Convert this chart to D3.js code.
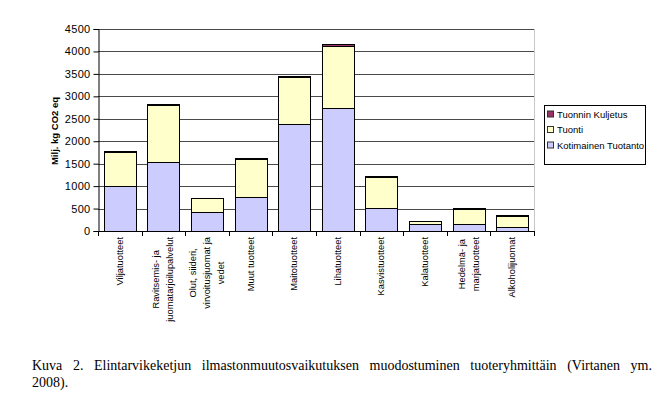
<!DOCTYPE html>
<html>
<head>
<meta charset="utf-8">
<script src="https://cdn.jsdelivr.net/npm/d3@7"></script>
<style>
  html, body { margin: 0; padding: 0; background: #fff; }
  svg { display: block; }
</style>
</head>
<body>
<svg id="chart" width="660" height="405"></svg>
<script>
const categories = ["Viljatuotteet", "Ravitsemis- ja juomatarjoilupalvelut", "Olut, siideri, virvoitusjuomat ja vedet", "Muut tuotteet", "Maitotuotteet", "Lihatuotteet", "Kasvistuotteet", "Kalatuotteet", "Hedelmä- ja marjatuotteet", "Alkoholijuomat"];
const labelLines = [["Viljatuotteet"], ["Ravitsemis- ja", "juomatarjoilupalvelut"], ["Olut, siideri,", "virvoitusjuomat ja", "vedet"], ["Muut tuotteet"], ["Maitotuotteet"], ["Lihatuotteet"], ["Kasvistuotteet"], ["Kalatuotteet"], ["Hedelmä- ja", "marjatuotteet"], ["Alkoholijuomat"]];
const kotimainen = [1000, 1530, 430, 760, 2390, 2740, 505, 150, 150, 80];
const tuonti = [760, 1270, 300, 840, 1050, 1390, 700, 70, 340, 265];
const kuljetus = [30, 20, 10, 30, 20, 30, 30, 10, 30, 10];
const seriesNames = ["Kotimainen Tuotanto", "Tuonti", "Tuonnin Kuljetus"];
const seriesColors = ["#ccccff", "#ffffcc", "#993366"];
const yTicks = [0, 500, 1000, 1500, 2000, 2500, 3000, 3500, 4000, 4500];
const yTitle = "Milj. kg CO2 eq";
const caption1 = "Kuva 2. Elintarvikeketjun ilmastonmuutosvaikutuksen muodostuminen tuoteryhmittäin (Virtanen ym.";
const caption2 = "2008).";

const SANS = "'Liberation Sans', Arial, sans-serif";
const SERIF = "'Liberation Serif', 'Times New Roman', serif";

const svg = d3.select("#chart");
const L = 98, R = 534, T = 29, B = 231;

const x = d3.scaleBand().domain(categories).range([L, R]).paddingInner(0.27).paddingOuter(0.135);
const y = d3.scaleLinear().domain([0, 4500]).range([B, T]);

// gridlines
svg.append("g").selectAll("line").data(yTicks.filter(d => d > 0)).join("line")
  .attr("x1", L).attr("x2", R)
  .attr("y1", d => Math.round(y(d)) + 0.5).attr("y2", d => Math.round(y(d)) + 0.5)
  .attr("stroke", "#4a4a4a").attr("stroke-width", 1);

// right border
svg.append("line").attr("x1", R + 0.5).attr("x2", R + 0.5).attr("y1", T).attr("y2", B)
  .attr("stroke", "#c8c8c8");

// stacked data
const table = categories.map((c, i) => ({ cat: c, k: kotimainen[i], t: tuonti[i], q: kuljetus[i] }));
const stack = d3.stack().keys(["k", "t", "q"])(table);

svg.append("g").selectAll("g").data(stack).join("g")
  .attr("fill", (d, i) => seriesColors[i])
  .selectAll("rect").data(d => d).join("rect")
  .attr("x", d => Math.round(x(d.data.cat)) + 0.5)
  .attr("width", Math.round(x.bandwidth()))
  .attr("y", d => Math.round(y(d[1])) + 0.5)
  .attr("height", d => Math.max(0, Math.round(y(d[0])) - Math.round(y(d[1]))))
  .attr("stroke", "#000").attr("stroke-width", 1);

// Y axis
const yAxis = svg.append("g").attr("transform", `translate(${L + 0.5},0)`)
  .call(d3.axisLeft(y).tickValues(yTicks).tickSize(5).tickPadding(3).tickFormat(d3.format("d")));
yAxis.select(".domain").attr("stroke", "#000");
yAxis.selectAll(".tick line").attr("stroke", "#000");
yAxis.selectAll(".tick text").attr("font-family", SANS)
  .attr("font-size", "11px").attr("fill", "#000").attr("letter-spacing", "0.3px");

// X axis line + ticks at boundaries
svg.append("line").attr("x1", L).attr("x2", R).attr("y1", B + 0.5).attr("y2", B + 0.5).attr("stroke", "#000");
const step = x.step();
const bounds = d3.range(categories.length + 1).map(i => i === 0 ? L : (i === categories.length ? R : x(categories[i]) - step * x.paddingInner() / 2));
svg.append("g").selectAll("line").data(bounds).join("line")
  .attr("x1", d => Math.round(d) + 0.5).attr("x2", d => Math.round(d) + 0.5)
  .attr("y1", B).attr("y2", B + 5).attr("stroke", "#000");

// X labels
const labelTop = 237;
const lineGap = 14;
categories.forEach((c, i) => {
  const lines = labelLines[i];
  const cx = x(c) + x.bandwidth() / 2;
  const g = svg.append("g");
  const texts = lines.map((ln, j) => g.append("text").text(ln)
    .attr("font-family", SANS).attr("font-size", "9.3px").attr("fill", "#000")
    .attr("text-anchor", "middle").attr("dominant-baseline", "central"));
  const maxLen = d3.max(texts, t => t.node().getComputedTextLength());
  const cy = labelTop + maxLen / 2;
  texts.forEach((t, j) => {
    const lx = cx + (j - (lines.length - 1) / 2) * lineGap;
    t.attr("transform", `translate(${lx},${cy}) rotate(-90)`);
  });
});

// Y title
svg.append("text").text(yTitle)
  .attr("transform", "translate(54,131) rotate(-90)")
  .attr("text-anchor", "middle").attr("dominant-baseline", "central")
  .attr("font-family", SANS).attr("font-size", "9.5px")
  .attr("font-weight", "bold").attr("fill", "#000");

// Legend
svg.append("rect").attr("x", 544.5).attr("y", 105.5).attr("width", 101).attr("height", 59)
  .attr("fill", "#fff").attr("stroke", "#000");
const legendOrder = [2, 1, 0];
legendOrder.forEach((si, j) => {
  const ly = 114 + j * 15.5;
  svg.append("rect").attr("x", 547.5).attr("y", ly - 3).attr("width", 6).attr("height", 6)
    .attr("fill", seriesColors[si]).attr("stroke", "#333");
  svg.append("text").text(seriesNames[si]).attr("x", 557).attr("y", ly)
    .attr("dominant-baseline", "central")
    .attr("font-family", SANS).attr("font-size", "9.5px").attr("fill", "#000");
});

// Caption (justified first line)
const capX0 = 32, capX1 = 652;
const c1 = svg.append("text").text(caption1).attr("x", capX0).attr("y", 370)
  .attr("font-family", SERIF).attr("font-size", "14px").attr("fill", "#000");
const words = caption1.split(" ").length;
const len = c1.node().getComputedTextLength();
const extra = (capX1 - capX0 - len) / (words - 1);
c1.attr("word-spacing", extra + "px");
svg.append("text").text(caption2).attr("x", capX0).attr("y", 387)
  .attr("font-family", SERIF).attr("font-size", "14px").attr("fill", "#000");
</script>
</body>
</html>
